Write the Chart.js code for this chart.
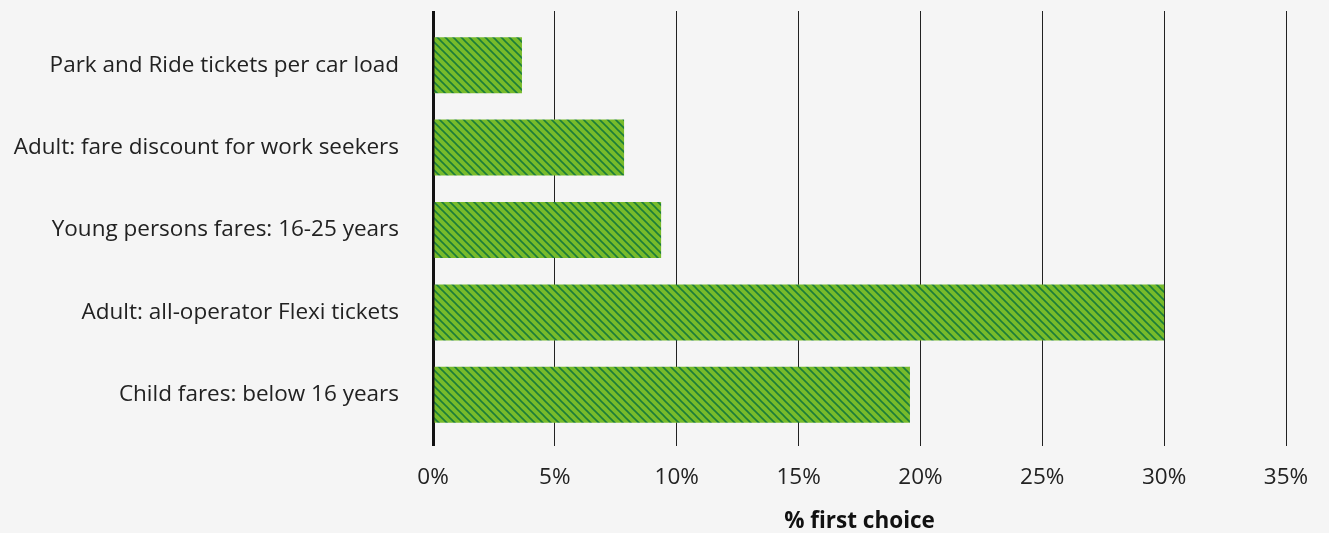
<!DOCTYPE html>
<html>
<head>
<meta charset="utf-8">
<script src="https://cdn.jsdelivr.net/npm/chart.js@4"></script>
<style>
  html, body { margin: 0; padding: 0; background: #f5f5f5; }
  #wrap { width: 1329px; height: 533px; position: relative; }
</style>
</head>
<body>
<div id="wrap"><canvas id="c" width="1329" height="533"></canvas></div>
<script>
const categories = [
  "Park and Ride tickets per car load",
  "Adult: fare discount for work seekers",
  "Young persons fares: 16-25 years",
  "Adult: all-operator Flexi tickets",
  "Child fares: below 16 years"
];
const firstChoice = [3.65, 7.84, 9.36, 30.0, 19.57];
const xTicks = [0, 5, 10, 15, 20, 25, 30, 35];
const axisTitle = "% first choice";

function makeHatch() {
  const p = document.createElement('canvas');
  p.width = 8; p.height = 8;
  const g = p.getContext('2d');
  g.fillStyle = '#77bb2b';
  g.fillRect(0, 0, 8, 8);
  g.strokeStyle = '#1b7d3a';
  g.lineWidth = 1.6;
  for (const off of [-8, 0, 8]) {
    g.beginPath();
    g.moveTo(off - 1, -1);
    g.lineTo(off + 9, 9);
    g.stroke();
  }
  return g.createPattern(p, 'repeat');
}

const font = { family: "'Open Sans', 'Noto Sans', sans-serif", size: 22.5 };
const gridLW = (ctx) => (ctx.tick && ctx.tick.value === 0 ? 3 : 1);
const gridCol = (ctx) => (ctx.tick && ctx.tick.value === 0 ? '#111111' : '#222222');

new Chart(document.getElementById('c'), {
  type: 'bar',
  data: {
    labels: categories,
    datasets: [{
      data: firstChoice,
      backgroundColor: makeHatch(),
      borderWidth: 0,
      categoryPercentage: 1,
      barPercentage: 0.68,
      xAxisID: 'x',
      yAxisID: 'y'
    }]
  },
  options: {
    indexAxis: 'y',
    responsive: false,
    animation: false,
    devicePixelRatio: 1,
    layout: { padding: { top: 11, right: 43, bottom: 0, left: 0 } },
    plugins: { legend: { display: false }, tooltip: { enabled: false } },
    scales: {
      y: {
        type: 'category',
        position: 'left',
        grid: { display: false, drawTicks: false },
        border: { display: false },
        ticks: { color: '#222222', font: font, padding: 34 },
        afterFit: (s) => { s.width = 433; s.paddingTop = 0; s.paddingBottom = 0; }
      },
      x: {
        type: 'linear',
        position: 'bottom',
        min: 0, max: 35,
        afterBuildTicks: (s) => { s.ticks = xTicks.map(v => ({ value: v })); },
        grid: { color: gridCol, lineWidth: gridLW, drawTicks: true, tickLength: 10 },
        border: { display: false },
        ticks: { color: '#222222', font: font, padding: 18, callback: (v) => v + '%' },
        title: { display: true, text: axisTitle, color: '#111111',
                 font: { family: font.family, size: 22.5, weight: 'bold', lineHeight: 1.0 }, padding: { top: 0, bottom: 0 } },
        afterFit: (s) => { s.height = 97; }
      },
      xTop: {
        type: 'linear',
        position: 'top',
        min: 0, max: 35,
        afterBuildTicks: (s) => { s.ticks = xTicks.map(v => ({ value: v })); },
        grid: { color: gridCol, lineWidth: gridLW, drawOnChartArea: false, drawTicks: true, tickLength: 13 },
        border: { display: false },
        ticks: { display: false },
        afterFit: (s) => { s.height = 13; }
      }
    }
  }
});
</script>
</body>
</html>
